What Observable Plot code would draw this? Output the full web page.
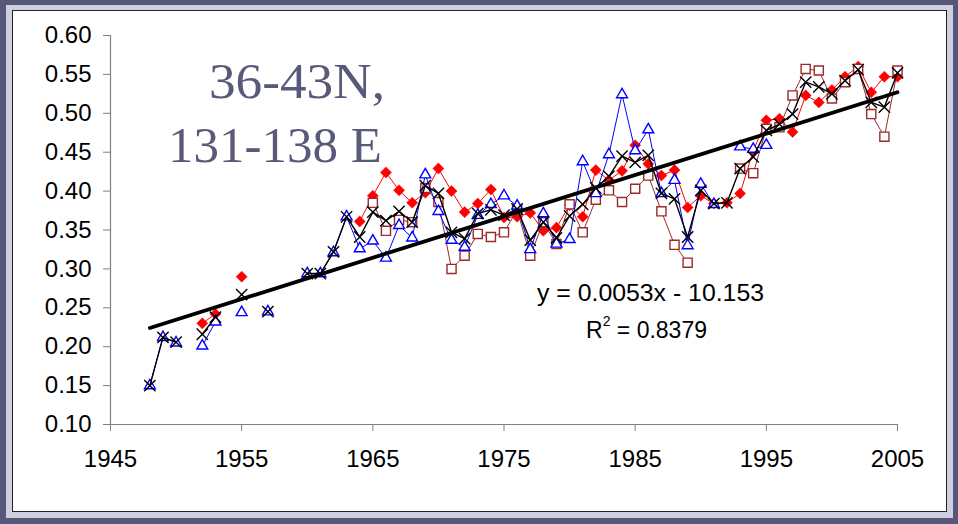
<!DOCTYPE html>
<html>
<head>
<meta charset="utf-8">
<script src="https://cdn.jsdelivr.net/npm/d3@7"></script>
<script src="https://cdn.jsdelivr.net/npm/@observablehq/plot@0.6"></script>
<style>
  html, body { margin: 0; padding: 0; }
  body { width: 958px; height: 524px; position: relative; overflow: hidden; background: #57577a; }
  #band { position: absolute; left: 6px; top: 5px; width: 947px; height: 513px; background: #cfcfdf; }
  #panel { position: absolute; left: 12px; top: 10px; width: 933px; height: 500px; background: #fff; border: 1px solid #222; }
  #chart { position: absolute; left: 0; top: 0; }
  #overlay { position: absolute; left: 0; top: 0; pointer-events: none; }
</style>
</head>
<body>
<div id="band"></div>
<div id="panel"></div>
<div id="chart"></div>
<svg id="overlay" width="958" height="524" xmlns="http://www.w3.org/2000/svg">
  <g font-family="'Liberation Serif', 'Times New Roman', serif" fill="#59597a" font-size="50">
    <text x="209" y="98" textLength="176" lengthAdjust="spacingAndGlyphs">36-43N,</text>
    <text x="168" y="162" textLength="214" lengthAdjust="spacingAndGlyphs">131-138 E</text>
  </g>
  <g font-family="'Liberation Sans', Arial, sans-serif" fill="#000" font-size="23">
    <text x="537" y="301" textLength="227" lengthAdjust="spacingAndGlyphs">y = 0.0053x - 10.153</text>
    <text x="586" y="338">R<tspan font-size="14" dy="-12">2</tspan><tspan dy="12"> = 0.8379</tspan></text>
  </g>
</svg>
<script>
// ---- data ----
const years = d3.range(1948, 2006);
// red filled diamonds
const redValues = [
  null, null, null, null, 0.230, 0.242, null, 0.290, null, null,      // 1948-1957
  null, null, null, null, null, null, 0.361, 0.394, 0.424, 0.401,      // 1958-1967
  0.385, 0.398, 0.429, 0.400, 0.373, 0.384, 0.402, 0.366, 0.367, 0.372, // 1968-1977
  0.349, 0.353, 0.382, 0.367, 0.427, 0.414, 0.426, 0.459, 0.435, 0.420, // 1978-1987
  0.427, 0.379, 0.394, 0.384, 0.385, 0.397, 0.452, 0.491, 0.493, 0.476, // 1988-1997
  0.523, 0.514, 0.530, 0.547, 0.560, 0.527, 0.547, 0.547               // 1998-2005
];
// dark red open squares
const squareValues = [
  null, null, null, null, null, null, null, null, null, null,
  null, null, null, null, null, null, null, 0.385, 0.349, 0.363,
  0.360, 0.404, 0.386, 0.300, 0.317, 0.345, 0.341, 0.347, 0.376, 0.317,
  0.360, 0.332, 0.383, 0.347, 0.389, 0.401, 0.386, 0.403, 0.420, 0.374,
  0.331, 0.308, null, null, null, 0.429, 0.423, 0.480, 0.482, 0.523,
  0.557, 0.555, 0.519, 0.540, 0.557, 0.499, 0.470, 0.555
];
// blue open triangles
const blueValues = [
  0.150, 0.212, 0.205, null, 0.201, 0.232, null, 0.244, null, 0.245,
  null, null, 0.294, 0.294, 0.321, 0.367, 0.326, 0.336, 0.314, 0.356,
  0.340, 0.421, 0.374, 0.337, 0.328, 0.369, 0.383, 0.394, 0.381, 0.325,
  0.371, 0.332, 0.338, 0.438, 0.397, 0.447, 0.524, 0.452, 0.479, 0.397,
  0.414, 0.330, 0.409, 0.383, null, 0.457, 0.454, 0.459, null, null,
  null, null, null, null, null, null, null, null
];
// black x (average)
const averageValues = [
  0.150, 0.212, 0.206, null, 0.216, 0.238, null, 0.267, null, 0.245,
  null, null, 0.294, 0.294, 0.322, 0.367, 0.341, 0.373, 0.362, 0.374,
  0.360, 0.407, 0.397, 0.347, 0.339, 0.371, 0.376, 0.369, 0.377, 0.337,
  0.360, 0.340, 0.368, 0.383, 0.404, 0.419, 0.445, 0.437, 0.446, 0.397,
  0.390, 0.341, 0.401, 0.384, 0.385, 0.429, 0.444, 0.478, 0.486, 0.499,
  0.540, 0.534, 0.525, 0.542, 0.556, 0.514, 0.508, 0.552
];
// linear trend line end points
const trendYears = [1948, 2005];
const trendValues = [0.224, 0.527];
// axes
const xTicks = [1945, 1955, 1965, 1975, 1985, 1995, 2005];
const yTicks = [0.10, 0.15, 0.20, 0.25, 0.30, 0.35, 0.40, 0.45, 0.50, 0.55, 0.60];

const rows = years.map((year, i) => ({
  year, red: redValues[i], square: squareValues[i], blue: blueValues[i], avg: averageValues[i]
}));
const trend = trendYears.map((year, i) => ({year, value: trendValues[i]}));

const axisColor = "#808080";
const chart = Plot.plot({
  width: 958,
  height: 524,
  marginLeft: 110,
  marginRight: 61,
  marginTop: 35,
  marginBottom: 100,
  style: {background: "transparent", fontFamily: "'Liberation Sans', Arial, sans-serif", fontSize: "24px", color: "#000"},
  x: {domain: [xTicks[0], xTicks[xTicks.length - 1]]},
  y: {domain: [yTicks[0], yTicks[yTicks.length - 1]]},
  marks: [
    Plot.ruleY([yTicks[0]], {stroke: axisColor, strokeWidth: 1.2}),
    Plot.ruleX([xTicks[0]], {stroke: axisColor, strokeWidth: 1.2}),
    Plot.axisX({ticks: xTicks, tickFormat: d => String(d), tickSize: 7, tickPadding: 18, stroke: axisColor, fill: "#000", label: null}),
    Plot.axisY({ticks: yTicks, tickFormat: d3.format(".2f"), tickSize: 7, tickPadding: 12, stroke: axisColor, fill: "#000", label: null}),
    Plot.line(rows, {x: "year", y: "red", stroke: "#ff0000", strokeWidth: 1}),
    Plot.dot(rows, {x: "year", y: "red", symbol: "diamond2", fill: "#ff0000", stroke: "#ff0000", strokeWidth: 0.5, r: 5}),
    Plot.line(rows, {x: "year", y: "square", stroke: "#9b2a2a", strokeWidth: 1}),
    Plot.dot(rows, {x: "year", y: "square", symbol: "square2", fill: "#fff", stroke: "#9b2a2a", strokeWidth: 1.4, r: 5.8}),
    Plot.line(rows, {x: "year", y: "blue", stroke: "#0000ff", strokeWidth: 1}),
    Plot.dot(rows, {x: "year", y: "blue", symbol: "triangle2", fill: "#fff", stroke: "#0000ff", strokeWidth: 1.4, r: 5.2}),
    Plot.line(rows, {x: "year", y: "avg", stroke: "#000", strokeWidth: 1.4}),
    Plot.dot(rows, {x: "year", y: "avg", symbol: "times", stroke: "#000", strokeWidth: 1.4, r: 5.2}),
    Plot.line(trend, {x: "year", y: "value", stroke: "#000", strokeWidth: 3.8})
  ]
});
document.getElementById("chart").appendChild(chart);
</script>
</body>
</html>
